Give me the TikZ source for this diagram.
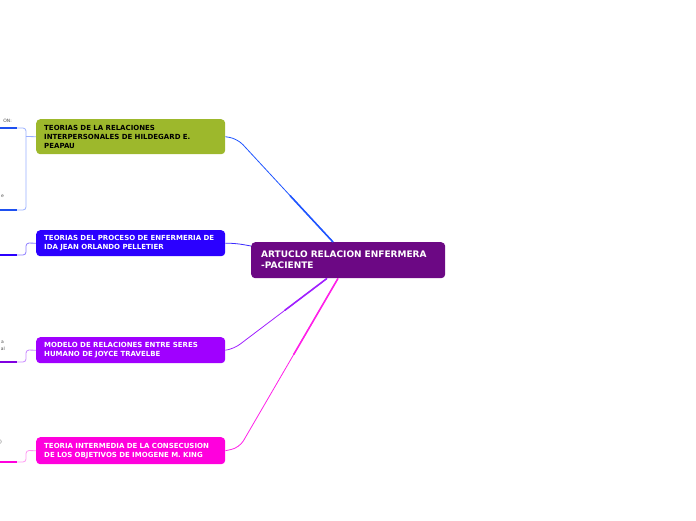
\documentclass[tikz,border=0pt]{standalone}
\usepackage{fontspec}
\setmainfont{DejaVu Sans}[BoldFont={DejaVu Sans Bold}]
\usetikzlibrary{calc}
\definecolor{MapGreen}{HTML}{9DB82C}
\definecolor{MapBlue}{HTML}{2B00FF}
\definecolor{MapViolet}{HTML}{A000FF}
\definecolor{MapPink}{HTML}{FF00DD}
\definecolor{MapPlum}{HTML}{6C0884}
\definecolor{LinkBlue}{HTML}{1F55FF}
\definecolor{LinkIndigo}{HTML}{3A2AFF}
\definecolor{LinkViolet}{HTML}{A020FF}
\definecolor{LinkPink}{HTML}{FF20E8}
\definecolor{StubBlue}{HTML}{9AB0FF}
\definecolor{StubIndigo}{HTML}{8C7CFF}
\definecolor{StubViolet}{HTML}{C888FF}
\definecolor{StubPink}{HTML}{FF98F2}
\definecolor{BarBlue}{HTML}{1E50F0}
\definecolor{BarViolet}{HTML}{8000E0}

\begin{document}
\begin{tikzpicture}[
  x=1pt,y=-1pt,
  every node/.style={rounded corners=4pt,anchor=north west,align=left,
    font=\fontsize{7}{9}\selectfont\bfseries,inner xsep=8pt,inner ysep=2pt},
  topic/.style={fill=#1,text width=173pt,text=white},
  hub/.style={fill=MapPlum,text=white,text width=174pt,inner xsep=10pt,
    minimum height=36pt,font=\fontsize{9}{11}\selectfont\bfseries},
  link/.style={draw=#1,line width=0.8pt,rounded corners=8pt},
  stub/.style={draw=#1,line width=0.8pt,rounded corners=3pt},
  bar/.style={draw=#1,line width=2.4pt},
  cut/.style={anchor=east,fill=none,text=black!70,inner sep=0pt,
    font=\fontsize{4.5}{7}\selectfont}
]
\useasboundingbox (0,0) rectangle (696,520);
\clip (0,0) rectangle (696,520);

% central topic
\node[hub] (ctr) at (251,242) {ARTUCLO RELACION ENFERMERA\\-PACIENTE};

% main topics
\node[topic=MapGreen,text=black,minimum height=35pt] (peplau) at (36,119)
  {TEORIAS DE LA RELACIONES\\INTERPERSONALES DE HILDEGARD E.\\PEAPAU};
\node[topic=MapBlue,minimum height=26pt] (orlando) at (36,230)
  {TEORIAS DEL PROCESO DE ENFERMERIA DE\\IDA JEAN ORLANDO PELLETIER};
\node[topic=MapViolet,minimum height=26pt] (travelbee) at (36,337)
  {MODELO DE RELACIONES ENTRE SERES\\HUMANO DE JOYCE TRAVELBE};
\node[topic=MapPink,minimum height=27pt] (king) at (36,437)
  {TEORIA INTERMEDIA DE LA CONSECUSION\\DE LOS OBJETIVOS DE IMOGENE M. KING};

% links from the centre
\coordinate (hA) at ($(ctr.north west)+(82,0)$);
\coordinate (hB) at ($(ctr.north west)+(0,4)$);
\coordinate (hC) at ($(ctr.south west)+(76,0)$);
\coordinate (hD) at ($(ctr.south west)+(87,0)$);
\draw[link=LinkBlue] (hA) -- ($(peplau.east)+(12,2)$) -- (peplau.east);
\draw[LinkBlue,line width=1.6pt] (hA) -- ($(hA)!0.45!($(peplau.east)+(12,2)$)$);
\draw[link=LinkIndigo] (hB) -- ($(orlando.east)+(10,0)$) -- (orlando.east);
\draw[link=LinkViolet] (hC) -- ($(travelbee.east)+(8,-1)$) -- (travelbee.east);
\draw[LinkViolet,line width=1.6pt] (hC) -- ($(hC)!0.45!($(travelbee.east)+(8,-1)$)$);
\draw[link=LinkPink] (hD) -- ($(king.east)+(14,-3)$) -- (king.east);
\draw[LinkPink,line width=1.6pt] (hD) -- ($(hD)!0.45!($(king.east)+(14,-3)$)$);

% subtopic stubs on the left
\coordinate (p1) at (0,128);
\coordinate (p2) at (0,210);
\coordinate (o1) at (0,255);
\coordinate (t1) at (0,362);
\coordinate (k1) at (0,462);
\draw[stub=StubBlue] (peplau.west) -- (26,136.5);
\draw[stub=StubBlue] (17,128) -- (26,128) -- (26,210) -- (17,210);
\draw[bar=BarBlue] (p1) -- ++(17,0);
\draw[bar=BarBlue] (p2) -- ++(17,0);
\draw[stub=StubIndigo] (orlando.west) -- (26,243) -- (26,255) -- (17,255);
\draw[bar=MapBlue] (o1) -- ++(17,0);
\draw[stub=StubViolet] (travelbee.west) -- (26,350) -- (26,362) -- (17,362);
\draw[bar=BarViolet] (t1) -- ++(17,0);
\draw[stub=StubPink] (king.west) -- (26,450.5) -- (26,462) -- (17,462);
\draw[bar=MapPink] (k1) -- ++(17,0);

% clipped text of off-page subtopics
\node[cut] (c1) at (12,121) {ON:};
\node[cut] (c2) at (4,196) {e};
\node[cut] (c3) at (4,342) {a};
\node[cut] (c4) at (5,349) {al};
\node[cut] (c5) at (2,442) {)};
\end{tikzpicture}
\end{document}
